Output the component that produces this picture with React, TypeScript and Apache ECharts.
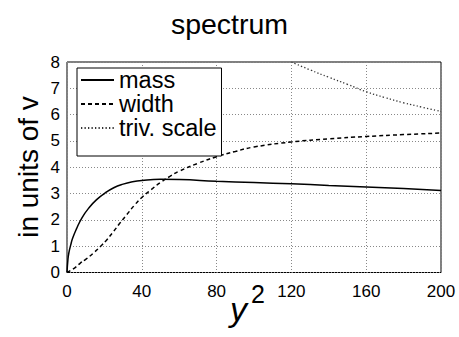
import React, { useEffect, useRef } from "react";
import * as echarts from "echarts";

const xTicks = [0, 40, 80, 120, 160, 200];
const yTicks = [0, 1, 2, 3, 4, 5, 6, 7, 8];

const massX = [0, 0.5, 1, 2, 3, 5, 8, 12, 16, 20, 25, 30, 35, 40, 50, 60, 80, 100, 120, 140, 160, 180, 200];
const massY = [0, 0.5, 0.75, 1.05, 1.3, 1.65, 2.08, 2.48, 2.78, 3.0, 3.22, 3.36, 3.45, 3.5, 3.54, 3.53, 3.47, 3.42, 3.37, 3.31, 3.25, 3.19, 3.12];

const widthX = [0, 4, 7, 10, 14, 18, 21, 25, 28, 32, 36, 40, 45, 50, 55, 60, 70, 80, 90, 100, 120, 140, 160, 180, 200];
const widthY = [0, 0.17, 0.35, 0.5, 0.73, 1.0, 1.22, 1.57, 1.85, 2.2, 2.55, 2.85, 3.15, 3.42, 3.65, 3.85, 4.15, 4.4, 4.6, 4.77, 4.96, 5.08, 5.17, 5.24, 5.3];

const trivX = [120, 130, 140, 150, 160, 170, 180, 190, 200];
const trivY = [8.0, 7.7, 7.42, 7.15, 6.87, 6.65, 6.45, 6.28, 6.12];

const seriesNames = ["mass", "width", "triv. scale"];

const pairs = (xs: number[], ys: number[]) => xs.map((x, i) => [x, ys[i]]);

const FONT = "Liberation Sans, Arial, Helvetica, sans-serif";

export default function App() {
  const ref = useRef<HTMLDivElement>(null);
  useEffect(() => {
    if (!ref.current) return;
    const chart = echarts.init(ref.current, null, { renderer: "svg" });
    const lineCommon = { type: "line", showSymbol: false, symbol: "none", smooth: true, clip: true };
    chart.setOption({
      animation: false,
      backgroundColor: "#fff",
      title: {
        text: "spectrum",
        left: "center",
        top: 4,
        textStyle: { fontFamily: FONT, fontSize: 28.5, fontWeight: "normal", color: "#000" },
      },
      grid: {
        left: 67,
        right: 18,
        top: 62,
        bottom: 64.5,
        show: true,
        borderColor: "#000",
        borderWidth: 1,
        backgroundColor: "transparent",
      },
      legend: {
        orient: "vertical",
        left: 77,
        top: 68,
        data: seriesNames,
        itemWidth: 33,
        itemHeight: 14,
        itemGap: 0,
        padding: [0, 5, 16, 3],
        backgroundColor: "#fff",
        borderColor: "#000",
        borderWidth: 1,
        borderRadius: 0,
        itemStyle: { opacity: 0 },
        textStyle: { fontFamily: FONT, fontSize: 23.5, color: "#000", lineHeight: 22.5 },
      },
      xAxis: {
        type: "value",
        min: 0,
        max: 200,
        interval: 40,
        axisLine: { show: false },
        axisTick: { show: false },
        axisLabel: { fontFamily: FONT, fontSize: 17, color: "#000", margin: 10 },
        splitLine: { show: true, lineStyle: { color: "#888", type: [1, 2], width: 1 } },
      },
      yAxis: {
        type: "value",
        min: 0,
        max: 8,
        interval: 1,
        axisLine: { show: false },
        axisTick: { show: false },
        axisLabel: { fontFamily: FONT, fontSize: 17, color: "#000", margin: 7 },
        splitLine: { show: true, lineStyle: { color: "#888", type: [1, 2], width: 1 } },
      },
      graphic: [
        {
          type: "text",
          x: 28,
          y: 167,
          rotation: Math.PI / 2,
          style: {
            text: "in units of v",
            fontFamily: FONT,
            fontSize: 28,
            fill: "#000",
            align: "center",
            verticalAlign: "middle",
          },
        },
        {
          type: "text",
          x: 230,
          y: 309,
          style: {
            text: "y",
            fontFamily: FONT,
            fontSize: 34,
            fontStyle: "italic",
            fill: "#000",
            align: "left",
            verticalAlign: "middle",
          },
        },
        {
          type: "text",
          x: 251,
          y: 294,
          style: {
            text: "2",
            fontFamily: FONT,
            fontSize: 25,
            fill: "#000",
            align: "left",
            verticalAlign: "middle",
          },
        },
      ],
      series: [
        {
          ...lineCommon,
          name: seriesNames[0],
          data: pairs(massX, massY),
          lineStyle: { color: "#000", width: 1.5, type: "solid" },
          itemStyle: { color: "#000" },
        },
        {
          ...lineCommon,
          name: seriesNames[1],
          data: pairs(widthX, widthY),
          lineStyle: { color: "#000", width: 1.5, type: [4, 3] },
          itemStyle: { color: "#000" },
        },
        {
          ...lineCommon,
          name: seriesNames[2],
          data: pairs(trivX, trivY),
          lineStyle: { color: "#333", width: 1.3, type: [1.3, 2.2] },
          itemStyle: { color: "#000" },
        },
      ],
    });
    return () => chart.dispose();
  }, []);
  return <div ref={ref} style={{ width: 459, height: 337, position: "absolute", left: 0, top: 0 }} />;
}
